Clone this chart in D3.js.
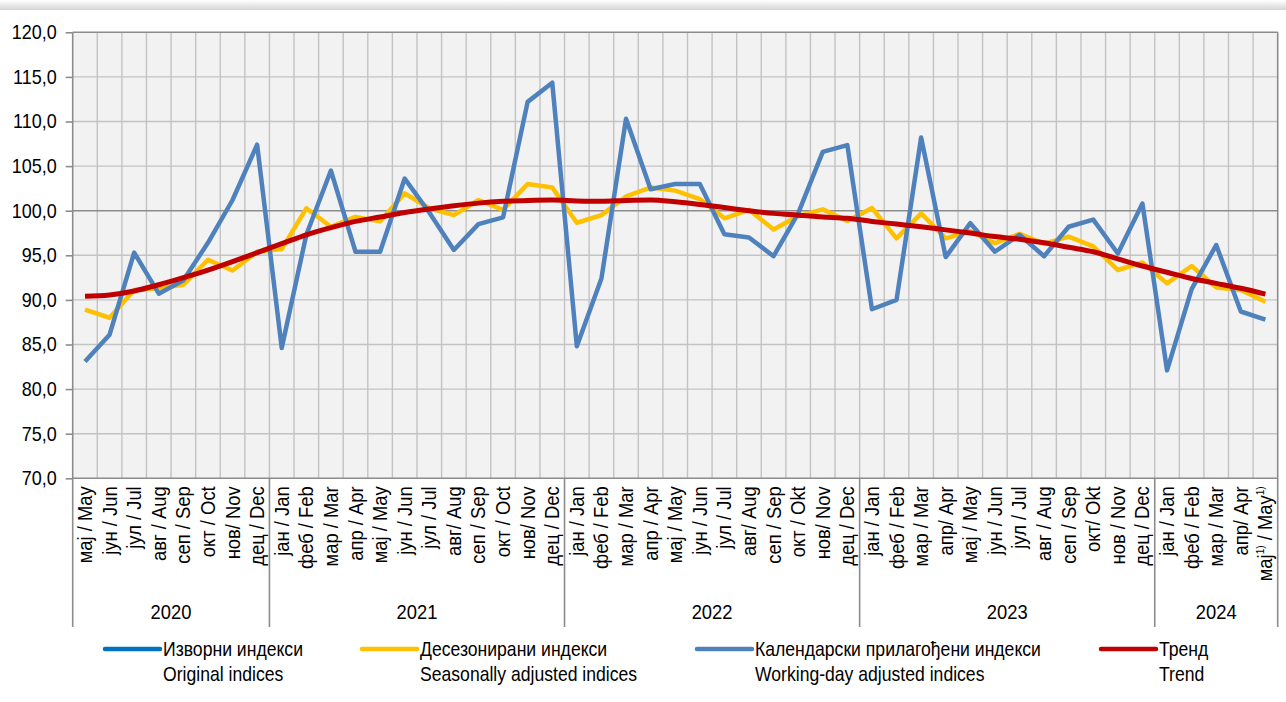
<!DOCTYPE html>
<html><head><meta charset="utf-8">
<script src="https://cdn.jsdelivr.net/npm/d3@7"></script>
<style>
body{margin:0;background:#fff;}
svg{display:block;}
text{font-family:"Liberation Sans",Arial,sans-serif;fill:#000;}
</style></head>
<body><svg id="c" width="1286" height="702"></svg>
<script>
const months = ["мај / May","јун / Jun","јул / Jul","авг / Aug","сеп / Sep","окт / Oct","нов/ Nov","дец / Dec",
"јан / Jan","феб / Feb","мар / Mar","апр / Apr","мај / May","јун / Jun","јул / Jul","авг/ Aug","сеп / Sep","окт / Oct","нов/ Nov","дец / Dec",
"јан / Jan","феб / Feb","мар / Mar","апр / Apr","мај / May","јун / Jun","јул / Jul","авг/ Aug","сеп / Sep","окт / Okt","нов/ Nov","дец / Dec",
"јан / Jan","феб / Feb","мар / Mar","апр/ Apr","мај / May","јун / Jun","јул / Jul","авг / Aug","сеп / Sep","окт/ Okt","нов / Nov","дец / Dec",
"јан / Jan","феб / Feb","мар / Mar","апр/ Apr","мај¹⁾ / May¹⁾"];
const years = ["2020","2021","2022","2023","2024"];
const yearStarts = [0,8,20,32,44,49];
const yTicks = [70,75,80,85,90,95,100,105,110,115,120];

const workingDay = [83.1,86.1,95.3,90.7,92.2,96.4,101.2,107.4,
84.6,97.3,104.5,95.4,95.4,103.6,99.8,95.6,98.5,99.25,112.2,114.35,
84.8,92.4,110.3,102.4,103.0,103.0,97.35,97.0,94.9,99.7,106.6,107.35,
88.95,90.0,108.2,94.8,98.6,95.4,97.3,94.9,98.2,99.0,95.2,100.8,
82.1,91.2,96.15,88.7,87.8];
const seasonal = [88.9,88.0,91.1,91.3,91.7,94.5,93.3,95.4,
95.7,100.27,98.2,99.3,98.8,101.95,100.27,99.5,101.2,100.1,103.0,102.6,
98.65,99.5,101.6,102.6,102.25,101.3,99.15,100.1,97.9,99.4,100.15,98.85,
100.3,96.9,99.7,96.9,97.7,96.35,97.4,96.3,97.1,96.0,93.35,94.2,
91.85,93.8,91.4,91.1,89.8];
const trend = [90.4,90.55,91.0,91.7,92.5,93.35,94.3,95.3,
96.3,97.3,98.1,98.8,99.3,99.8,100.2,100.55,100.85,101.05,101.15,101.2,
101.1,101.05,101.15,101.2,101.0,100.7,100.35,100.0,99.7,99.5,99.3,99.15,
98.8,98.5,98.2,97.85,97.5,97.1,96.8,96.4,95.9,95.4,94.6,93.8,
93.1,92.4,91.85,91.3,90.65];

const legendItems = [
 {ru:"Изворни индекси", en:"Original indices", color:"#0070C0", x:105},
 {ru:"Десезонирани индекси", en:"Seasonally adjusted indices", color:"#FFC000", x:362},
 {ru:"Календарски прилагођени индекси", en:"Working-day adjusted indices", color:"#4F81BD", x:697},
 {ru:"Тренд", en:"Trend", color:"#C00000", x:1101}
];

const svg = d3.select("#c");
const L=72.7, R=1277.7, T=32.3, B=478.3, SEP=627;
const SX = 0.88;

// top shadow band
const defs = svg.append("defs");
const g = defs.append("linearGradient").attr("id","sh").attr("x1",0).attr("y1",0).attr("x2",0).attr("y2",1);
g.append("stop").attr("offset","0%").attr("stop-color","#ffffff");
g.append("stop").attr("offset","100%").attr("stop-color","#d4d4d4");
svg.append("rect").attr("x",0).attr("y",0).attr("width",1286).attr("height",10).attr("fill","url(#sh)");

const idx = d3.range(months.length);
const x = d3.scaleBand().domain(idx).range([L,R]).padding(0);
const cx = i => x(i)+x.bandwidth()/2;
const y = d3.scaleLinear().domain([70,120]).range([B,T]);

svg.append("rect").attr("x",L).attr("y",T).attr("width",R-L).attr("height",B-T).attr("fill","#F2F2F2");

// vertical grid
svg.append("g").selectAll("line").data(idx.slice(1)).join("line")
 .attr("x1",d=>x(d)).attr("x2",d=>x(d)).attr("y1",T).attr("y2",B)
 .attr("stroke","#C3C3C3").attr("stroke-width",1.4);
// horizontal grid
svg.append("g").selectAll("line").data(yTicks.filter(v=>v>70)).join("line")
 .attr("x1",L).attr("x2",R).attr("y1",d=>y(d)).attr("y2",d=>y(d))
 .attr("stroke",d=>(d===100||d===120)?"#8C8C8C":"#C3C3C3").attr("stroke-width",d=>(d===100||d===120)?1.6:1.4);
// right border
svg.append("line").attr("x1",R).attr("x2",R).attr("y1",T).attr("y2",SEP).attr("stroke","#8C8C8C").attr("stroke-width",1.6);

// y axis
const ya = svg.append("g").attr("transform",`translate(${L},0)`)
 .call(d3.axisLeft(y).tickValues(yTicks).tickSize(7).tickPadding(9).tickFormat(d=>d3.format(".1f")(d).replace(".",",")));
ya.select(".domain").remove();
ya.selectAll(".tick line").attr("stroke","#8C8C8C").attr("stroke-width",1.6);
ya.selectAll(".tick text").attr("font-size",20).attr("font-family",null).attr("fill","#000")
  .attr("transform","scale(0.9,1)").attr("x",-16/0.9);
svg.append("line").attr("x1",L).attr("x2",L).attr("y1",T).attr("y2",SEP).attr("stroke","#8C8C8C").attr("stroke-width",1.6);
// bottom axis line
svg.append("line").attr("x1",L).attr("x2",R).attr("y1",B).attr("y2",B).attr("stroke","#8C8C8C").attr("stroke-width",1.6);

// year separators
svg.append("g").selectAll("line").data(yearStarts.slice(1,-1)).join("line")
 .attr("x1",d=>x(d)).attr("x2",d=>x(d)).attr("y1",B).attr("y2",SEP)
 .attr("stroke","#8C8C8C").attr("stroke-width",1.6);
// year labels
svg.append("g").selectAll("text").data(years).join("text")
 .attr("transform",(d,i)=>{const a=x(yearStarts[i]); const b=yearStarts[i+1]<months.length?x(yearStarts[i+1]):R; return `translate(${(a+b)/2},619) scale(0.92,1)`;})
 .attr("text-anchor","middle").attr("font-size",20).text(d=>d);

// category labels
const cl = svg.append("g").selectAll("text").data(idx).join("text")
 .attr("transform",i=>`translate(${cx(i)+7},${B+8}) rotate(-90) scale(0.92,1)`)
 .attr("text-anchor","end").attr("font-size",20);
cl.each(function(i){
  const t = d3.select(this); const s = months[i];
  if (s.indexOf("¹⁾")>=0){
    const parts = s.split("¹⁾");
    t.append("tspan").text(parts[0]);
    t.append("tspan").attr("font-size",11).attr("dy",-8).text("1)");
    t.append("tspan").attr("dy",8).text(parts[1]);
    t.append("tspan").attr("font-size",11).attr("dy",-8).text("1)");
  } else t.text(s);
});

// lines
const line = d3.line().x((d,i)=>cx(i)).y(d=>y(d));
svg.append("path").datum(seasonal).attr("d",line).attr("fill","none").attr("stroke","#FFC000").attr("stroke-width",4.5).attr("stroke-linejoin","round");
svg.append("path").datum(workingDay).attr("d",line).attr("fill","none").attr("stroke","#4F81BD").attr("stroke-width",4.5).attr("stroke-linejoin","round");
svg.append("path").datum(trend).attr("d",d3.line().x((d,i)=>cx(i)).y(d=>y(d)).curve(d3.curveMonotoneX)).attr("fill","none").attr("stroke","#C00000").attr("stroke-width",5).attr("stroke-linejoin","round");

// legend
const lg = svg.append("g").selectAll("g").data(legendItems).join("g").attr("transform",d=>`translate(${d.x},0)`);
lg.append("line").attr("x1",0).attr("x2",55).attr("y1",649).attr("y2",649).attr("stroke",d=>d.color).attr("stroke-width",4.5).attr("stroke-linecap","round");
lg.append("text").attr("transform",`translate(58,656) scale(${SX},1)`).attr("font-size",20).text(d=>d.ru);
lg.append("text").attr("transform",`translate(58,681) scale(${SX},1)`).attr("font-size",20).text(d=>d.en);
</script></body></html>
